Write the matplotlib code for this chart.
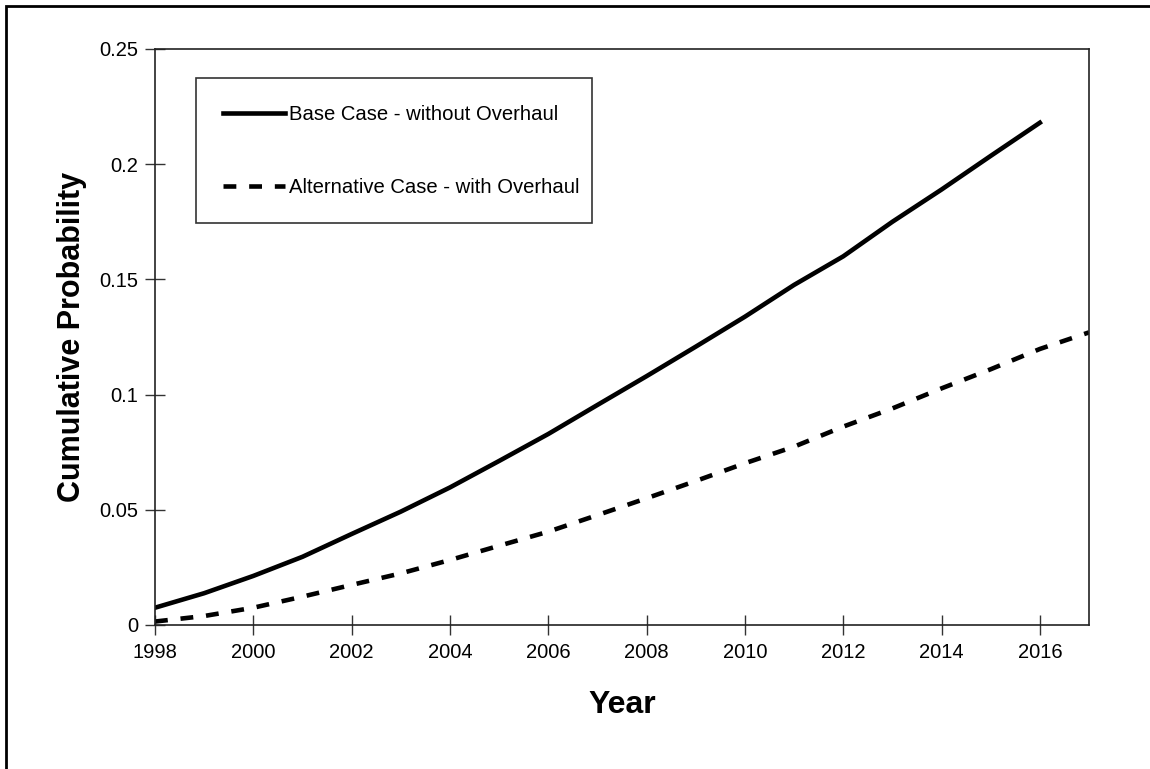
import matplotlib.pyplot as plt
from matplotlib.patches import Rectangle
from matplotlib.ticker import FormatStrFormatter

plt.rcParams['font.family'] = ['Liberation Sans', 'DejaVu Sans']

# Data
years_base = list(range(1998, 2017))
base_case = [0.0075, 0.0138, 0.0213, 0.0296, 0.0395, 0.0492, 0.0597, 0.0712,
             0.0829, 0.0955, 0.108, 0.1208, 0.1338, 0.1476, 0.160, 0.175,
             0.189, 0.2036, 0.218]

years_alt = list(range(1998, 2018))
alt_case = [0.0015, 0.0039, 0.0075, 0.0123, 0.0174, 0.0224, 0.0282, 0.0344,
            0.0405, 0.0477, 0.055, 0.0625, 0.0702, 0.0774, 0.0861, 0.094,
            0.1027, 0.111, 0.1198, 0.127]

labels = ["Base Case - without Overhaul", "Alternative Case - with Overhaul"]
x_ticks = list(range(1998, 2017, 2))
y_ticks = [0, 0.05, 0.1, 0.15, 0.2, 0.25]

fig = plt.figure(figsize=(11.5, 7.69), dpi=100)
ax = fig.add_axes([155 / 1150, 1 - 625 / 769, (1089 - 155) / 1150, (625 - 49) / 769])

ax.plot(years_base, base_case, color='black', lw=3.3, label=labels[0])
ax.plot(years_alt, alt_case, color='black', lw=3.3, linestyle=(0, (2.8, 2.8)),
        label=labels[1])

ax.set_xlim(1998, 2017)
ax.set_ylim(0, 0.25)
ax.set_xticks(x_ticks)
ax.set_yticks(y_ticks)
ax.yaxis.set_major_formatter(FormatStrFormatter('%g'))
ax.tick_params(axis='both', direction='inout', length=14, width=1, color='#333333',
               labelsize=14.5)
ax.tick_params(axis='x', pad=6)
ax.tick_params(axis='y', pad=5)
for s in ax.spines.values():
    s.set_linewidth(1.2)
    s.set_color('#222222')

ax.set_xlabel("Year", fontsize=23, fontweight='bold', labelpad=20)
ax.set_ylabel("Cumulative Probability", fontsize=22, fontweight='bold', labelpad=9)

leg = ax.legend(loc='upper left', bbox_to_anchor=(0.0439, 0.0, 0.424, 0.9497),
                mode='expand', fontsize=14.6, handlelength=3.05,
                handletextpad=0.2, labelspacing=2.66, borderpad=1.32,
                borderaxespad=0, fancybox=False, frameon=True)
leg.get_frame().set_edgecolor('black')
leg.get_frame().set_linewidth(1.2)

# outer chart border (left and top edges visible)
fig.patches.append(Rectangle((6 / 1150, -0.1), 1.2, 0.1 + (769 - 6) / 769,
                             transform=fig.transFigure, fill=False,
                             edgecolor='black', lw=2))

fig.savefig("out.png", dpi=100)
